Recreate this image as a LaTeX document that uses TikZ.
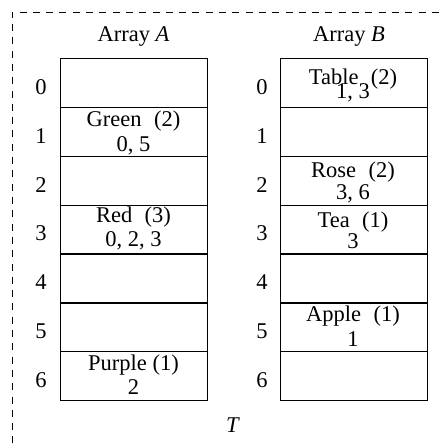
\documentclass[tikz,border=0pt]{standalone}
\usepackage{fontspec}
\setmainfont{Liberation Serif}
\begin{document}
\begin{tikzpicture}[x=1pt,y=1pt,
  every node/.style={font=\fontsize{22.5}{25}\selectfont},
  cell/.style={draw,line width=1.2pt,minimum width=147pt,minimum height=48.86pt,inner sep=0pt,anchor=north west},
  txt/.style={inner sep=0pt,anchor=base},
  frame/.style={line width=0.9pt,dash pattern=on 7pt off 6.3pt}]
\useasboundingbox (0,-446) rectangle (442,0);
\clip (0,-446) rectangle (442,0);
\fill[white] (0,-446) rectangle (442,0);
\draw[frame] (12,-470) -- (12,-12) -- (470,-12);
\node[txt] (ta) at (133.5,-41.7) {Array \textit{A}};
\node[txt] (tb) at (349,-41.7) {Array \textit{B}};
\node[cell] (a0) at (60,-58) {};
\node[cell] (a1) at (60,-106.86) {};
\node[cell] (a2) at (60,-155.72) {};
\node[cell] (a3) at (60,-204.58) {};
\node[cell] (a4) at (60,-253.44) {};
\node[cell] (a5) at (60,-302.3) {};
\node[cell] (a6) at (60,-351.16) {};
\node[cell] (b0) at (279.5,-58) {};
\node[cell] (b1) at (279.5,-106.86) {};
\node[cell] (b2) at (279.5,-155.72) {};
\node[cell] (b3) at (279.5,-204.58) {};
\node[cell] (b4) at (279.5,-253.44) {};
\node[cell] (b5) at (279.5,-302.3) {};
\node[cell] (b6) at (279.5,-351.16) {};
\node[txt] (ia0) at (41,-94.3) {0};
\node[txt] (ia1) at (41,-143.16) {1};
\node[txt] (ia2) at (41,-192.02) {2};
\node[txt] (ia3) at (41,-240.88) {3};
\node[txt] (ia4) at (41,-289.74) {4};
\node[txt] (ia5) at (41,-338.6) {5};
\node[txt] (ia6) at (41,-387.46) {6};
\node[txt] (ib0) at (262,-94.3) {0};
\node[txt] (ib1) at (262,-143.16) {1};
\node[txt] (ib2) at (262,-192.02) {2};
\node[txt] (ib3) at (262,-240.88) {3};
\node[txt] (ib4) at (262,-289.74) {4};
\node[txt] (ib5) at (262,-338.6) {5};
\node[txt] (ib6) at (262,-387.46) {6};
\node[txt] (a1n) at (133.5,-126.7) {Green\hspace{0.55em}(2)};
\node[txt] (a1v) at (133.5,-151.7) {0, 5};
\node[txt] (a3n) at (133.5,-222.3) {Red\hspace{0.55em}(3)};
\node[txt] (a3v) at (133.5,-246.7) {0, 2, 3};
\node[txt] (a6n) at (133.5,-370) {Purple (1)};
\node[txt] (a6v) at (133.5,-394.3) {2};
\node[txt] (b0n) at (353,-84.3) {Table\hspace{0.55em}(2)};
\node[txt] (b0v) at (353,-98.3) {1, 3};
\node[txt] (b2n) at (353,-178) {Rose\hspace{0.55em}(2)};
\node[txt] (b2v) at (353,-199.3) {3, 6};
\node[txt] (b3n) at (353,-227.3) {Tea\hspace{0.55em}(1)};
\node[txt] (b3v) at (353,-248.3) {3};
\node[txt] (b5n) at (353,-321.7) {Apple\hspace{0.55em}(1)};
\node[txt] (b5v) at (353,-346) {1};
\node[txt] (t) at (233,-432) {\textit{T}};
\fill[white] (209,-60) rectangle (250,-400);
\end{tikzpicture}
\end{document}
